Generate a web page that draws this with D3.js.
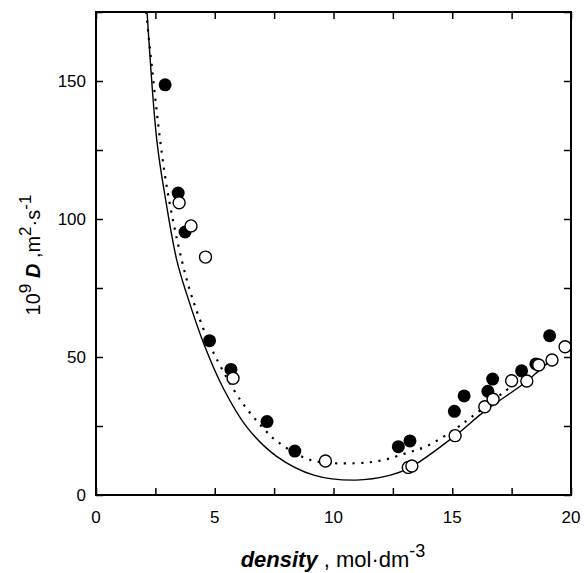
<!DOCTYPE html>
<html><head><meta charset="utf-8">
<script src="https://cdn.jsdelivr.net/npm/d3@7"></script>
<style>body{margin:0;background:#fff}svg{display:block}</style>
</head><body>
<script>
// Filled circles (series 1)
const filledX = [2.91, 3.46, 3.75, 4.78, 5.68, 7.2, 8.37, 12.73, 13.22, 15.09, 15.5, 16.5, 16.7, 17.92, 18.52, 19.1];
const filledY = [148.6, 109.4, 95.3, 55.9, 45.5, 26.6, 15.9, 17.5, 19.6, 30.3, 35.9, 37.6, 42.0, 45.0, 47.5, 57.7];
// Open circles (series 2)
const openX = [3.5, 4.0, 4.61, 5.77, 9.66, 13.15, 13.3, 15.12, 16.37, 16.72, 17.5, 18.14, 18.64, 19.2, 19.75];
const openY = [105.9, 97.5, 86.2, 42.3, 12.3, 10.0, 10.5, 21.5, 32.0, 34.7, 41.4, 41.3, 47.1, 48.9, 53.7];
// Solid model curve
const solidX = [2.15, 2.56, 2.91, 3.4, 3.83, 4.53, 5.37, 6.36, 7.62, 9.17, 10.93, 12.4, 13.18, 15.15, 16.34, 18.03, 18.6, 19.1];
const solidY = [175, 128.6, 108.1, 85.1, 72.5, 55.0, 38.5, 24.5, 13.9, 7.2, 5.4, 7.2, 9.7, 21.7, 30.2, 40.5, 44.7, 48.5];
// Dotted model curve
const dotX = [2.11, 2.7, 3.05, 3.61, 4.03, 4.6, 5.02, 6.08, 6.99, 7.6, 9.03, 10.86, 12.0, 13.0, 13.95, 15.14, 15.85, 17.19, 17.6];
const dotY = [175, 128.6, 108.1, 85.1, 72.0, 58.5, 50.3, 34.4, 24.7, 19.6, 12.7, 11.5, 12.5, 15.0, 17.8, 24.0, 28.5, 37.4, 40.0];
// Ticks
const xTickLabels = [0, 5, 10, 15, 20];
const xMinorTicks = [0, 2.5, 5, 7.5, 10, 12.5, 15, 17.5, 20];
const yTickLabels = [0, 50, 100, 150];
const yMinorTicks = [0, 25, 50, 75, 100, 125, 150, 175];

const W = 584, H = 573;
const L = 96, R = 571, T = 12, B = 495;
const svg = d3.select("body").append("svg").attr("width", W).attr("height", H);
const x = d3.scaleLinear().domain([0, 20]).range([L, R]);
const y = d3.scaleLinear().domain([0, 175]).range([B, T]);
const font = "'Liberation Sans', Arial, sans-serif";

// Curves
const clip = svg.append("clipPath").attr("id", "c").append("rect")
  .attr("x", L).attr("y", T).attr("width", R - L).attr("height", B - T);
const g = svg.append("g").attr("clip-path", "url(#c)");
const line = d3.line().x(d => x(d[0])).y(d => y(d[1])).curve(d3.curveCatmullRom.alpha(0.5));
g.append("path").datum(solidX.map((v, i) => [v, solidY[i]]))
  .attr("d", line).attr("fill", "none").attr("stroke", "#000").attr("stroke-width", 1.4);
g.append("path").datum(dotX.map((v, i) => [v, dotY[i]]))
  .attr("d", line).attr("fill", "none").attr("stroke", "#000").attr("stroke-width", 2.2)
  .attr("stroke-dasharray", "2.2,6.5");

// Points
svg.append("g").selectAll("circle").data(filledX.map((v, i) => [v, filledY[i]])).join("circle")
  .attr("cx", d => x(d[0])).attr("cy", d => y(d[1])).attr("r", 6.5).attr("fill", "#000");
svg.append("g").selectAll("circle").data(openX.map((v, i) => [v, openY[i]])).join("circle")
  .attr("cx", d => x(d[0])).attr("cy", d => y(d[1])).attr("r", 6).attr("fill", "#fff")
  .attr("stroke", "#000").attr("stroke-width", 1.4);

// Axes (inward ticks on all sides)
const tl = 7;
svg.append("g").attr("transform", `translate(0,${B})`)
  .call(d3.axisBottom(x).tickValues(xMinorTicks).tickSize(-tl).tickFormat(""))
  .call(a => a.select(".domain").remove());
svg.append("g").attr("transform", `translate(0,${T})`)
  .call(d3.axisTop(x).tickValues(xMinorTicks).tickSize(-tl).tickFormat(""))
  .call(a => a.select(".domain").remove());
svg.append("g").attr("transform", `translate(${L},0)`)
  .call(d3.axisLeft(y).tickValues(yMinorTicks).tickSize(-tl).tickFormat(""))
  .call(a => a.select(".domain").remove());
svg.append("g").attr("transform", `translate(${R},0)`)
  .call(d3.axisRight(y).tickValues(yMinorTicks).tickSize(-tl).tickFormat(""))
  .call(a => a.select(".domain").remove());
svg.selectAll(".tick line").attr("stroke", "#000").attr("stroke-width", 1.5);

svg.append("rect").attr("x", L).attr("y", T).attr("width", R - L).attr("height", B - T)
  .attr("fill", "none").attr("stroke", "#000").attr("stroke-width", 2);

// Tick labels
svg.append("g").selectAll("text").data(xTickLabels).join("text")
  .attr("x", d => x(d)).attr("y", B + 28).attr("text-anchor", "middle")
  .attr("font-family", font).attr("font-size", 17).text(d => d);
svg.append("g").selectAll("text").data(yTickLabels).join("text")
  .attr("x", L - 10).attr("y", d => y(d) + 6).attr("text-anchor", "end")
  .attr("font-family", font).attr("font-size", 17).text(d => d);

// X title
const xt = svg.append("text").attr("x", 333).attr("y", 567).attr("text-anchor", "middle")
  .attr("font-family", font).attr("font-size", 22);
xt.append("tspan").attr("font-weight", "bold").attr("font-style", "italic").text("density");
xt.append("tspan").text(" , mol·dm");
xt.append("tspan").attr("dy", -10).attr("font-size", 18).text("-3");

// Y title
const yt = svg.append("text").attr("transform", "translate(40,255) rotate(-90)")
  .attr("text-anchor", "middle").attr("font-family", font).attr("font-size", 20);
yt.append("tspan").text("10");
yt.append("tspan").attr("dy", -9).attr("font-size", 17).text("9");
yt.append("tspan").attr("dy", 9).text(" ");
yt.append("tspan").attr("font-weight", "bold").attr("font-style", "italic").text("D");
yt.append("tspan").text(" ,m");
yt.append("tspan").attr("dy", -9).attr("font-size", 17).text("2");
yt.append("tspan").attr("dy", 9).text("·s");
yt.append("tspan").attr("dy", -9).attr("font-size", 17).text("-1");
</script>
</body></html>
